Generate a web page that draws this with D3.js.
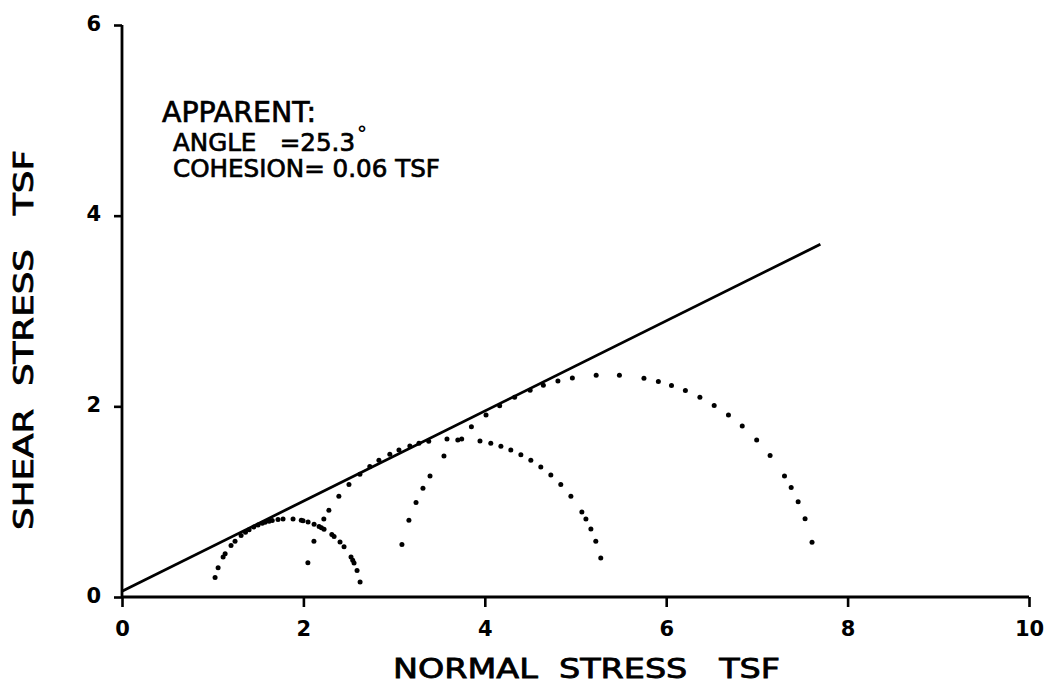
<!DOCTYPE html>
<html>
<head>
<meta charset="utf-8">
<script src="https://cdn.jsdelivr.net/npm/d3@7"></script>
<style>
  html, body { margin: 0; padding: 0; background: #fff; }
  svg { display: block; }
  text { font-family: "DejaVu Sans", sans-serif; fill: #000; white-space: pre; }
</style>
</head>
<body>
<svg id="chart" width="1059" height="683"></svg>
<script>
// ---- data ----
const xTicks = [0, 2, 4, 6, 8, 10];
const yTicks = [0, 2, 4, 6];
const xDomain = [0, 10];
const yDomain = [0, 6];

// Mohr circles: minor / major principal stress (TSF)
const sigma3 = [1.00, 2.01, 3.02];
const sigma1 = [2.64, 5.33, 7.68];
// plotted dot positions along each circle (angle in degrees)
const circle1Angles = [11, 19.8, 25.8, 28, 30.7, 40, 44.6, 50.8, 53, 60.2, 62.5, 64.5, 68.7, 73.6, 77.6, 79, 85.4, 93.1, 97, 101.5, 104, 107.2, 109.5, 113, 116.5, 120.7, 124, 128.2, 134.4, 138.9, 146.4, 149.3, 158, 165.5];
const circle2Angles = [14.3, 20.6, 25.4, 29.5, 32.5, 39.6, 45.3, 50.4, 55.2, 59.7, 64, 68.2, 72.2, 76.2, 80.4, 87.4, 93, 100, 103.8, 107.4, 111.8, 115.6, 120.3, 124.4, 129.1, 134.7, 140.4, 146.8, 150.5, 159.4, 167.5];
const circle3Angles = [14.3, 20.6, 25.4, 29.5, 33, 39.6, 45, 50.3, 55, 59.6, 64, 68.3, 72.3, 76, 80, 86.7, 93, 99.5, 103.5, 107.6, 111.4, 116, 120.6, 125, 130, 135, 140.6, 147, 150.7, 154.8, 159.8, 166.3];
const circleAngles = [circle1Angles, circle2Angles, circle3Angles];

// failure envelope
const frictionAngle = 25.3;   // degrees
const cohesion = 0.06;        // TSF
const envelopeX = [0, 7.7];

const annotation = ["APPARENT:", "ANGLE   =25.3", "COHESION= 0.06 TSF"];
const xTitle = "NORMAL  STRESS   TSF";
const yTitle = "SHEAR  STRESS   TSF";

// ---- drawing ----
const svg = d3.select("#chart");
const x = d3.scaleLinear().domain(xDomain).range([122, 1029]);
const y = d3.scaleLinear().domain(yDomain).range([597, 25]);

const xAxis = d3.axisBottom(x).tickValues(xTicks).tickSize(10).tickFormat(d3.format("d"));
const yAxis = d3.axisLeft(y).tickValues(yTicks).tickSize(8).tickFormat(d3.format("d"));

const gx = svg.append("g").attr("transform", `translate(0,${y(0)})`).call(xAxis);
const gy = svg.append("g").attr("transform", `translate(${x(0)},0)`).call(yAxis);

[gx, gy].forEach(g => {
  g.select(".domain").attr("stroke", "#000").attr("stroke-width", 2.8);
  g.selectAll(".tick line").attr("stroke", "#000").attr("stroke-width", 2.6);
  g.selectAll(".tick text")
    .style("font-family", "'DejaVu Sans', sans-serif")
    .style("font-weight", "bold")
    .style("font-size", "21px")
    .attr("fill", "#000");
});
gx.select(".domain").attr("d", `M${x(0)},0H${x(10)}`);
gy.select(".domain").attr("d", `M0,${y(0)}V${y(6)}`);
gx.selectAll(".tick text").attr("dy", null).attr("y", 39);
gy.selectAll(".tick text").attr("x", -21).attr("dy", null).attr("y", 5);

// envelope line
const slope = Math.tan(frictionAngle * Math.PI / 180);
svg.append("line")
  .attr("x1", x(envelopeX[0])).attr("y1", y(cohesion + slope * envelopeX[0]))
  .attr("x2", x(envelopeX[1])).attr("y2", y(cohesion + slope * envelopeX[1]))
  .attr("stroke", "#000").attr("stroke-width", 2.8);

// Mohr circle dots
sigma3.forEach((s3, i) => {
  const c = (s3 + sigma1[i]) / 2, r = (sigma1[i] - s3) / 2;
  svg.append("g").selectAll("circle")
    .data(circleAngles[i])
    .join("circle")
    .attr("cx", a => x(c + r * Math.cos(a * Math.PI / 180)))
    .attr("cy", a => y(r * Math.sin(a * Math.PI / 180)))
    .attr("r", 2.5)
    .attr("fill", "#000");
});

// annotation (plotter-like: regular weight with a thin outline)
const annStyle = sel => sel.style("font-weight", "normal")
  .attr("stroke", "#000").attr("stroke-width", 0.7)
  .attr("xml:space", "preserve").attr("lengthAdjust", "spacingAndGlyphs");
svg.append("text").attr("x", 162).attr("y", 122)
  .style("font-size", "29px").call(annStyle)
  .attr("textLength", 154)
  .text(annotation[0]);
svg.append("text").attr("x", 173).attr("y", 151)
  .style("font-size", "24px").call(annStyle)
  .attr("textLength", 182)
  .text(annotation[1]);
svg.append("text").attr("x", 357).attr("y", 140)
  .style("font-size", "20px").style("font-weight", "bold")
  .text("°");
svg.append("text").attr("x", 173).attr("y", 177)
  .style("font-size", "24px").call(annStyle)
  .attr("textLength", 267)
  .text(annotation[2]);

// axis titles
svg.append("text").attr("x", 393).attr("y", 678)
  .style("font-size", "27px").style("font-weight", "normal")
  .attr("stroke", "#000").attr("stroke-width", 0.8)
  .attr("xml:space", "preserve")
  .attr("textLength", 387).attr("lengthAdjust", "spacingAndGlyphs")
  .text(xTitle);
svg.append("text")
  .attr("transform", "translate(33,530) rotate(-90)")
  .style("font-size", "27px").style("font-weight", "normal")
  .attr("stroke", "#000").attr("stroke-width", 0.8)
  .attr("xml:space", "preserve")
  .attr("textLength", 380).attr("lengthAdjust", "spacingAndGlyphs")
  .text(yTitle);
</script>
</body>
</html>
